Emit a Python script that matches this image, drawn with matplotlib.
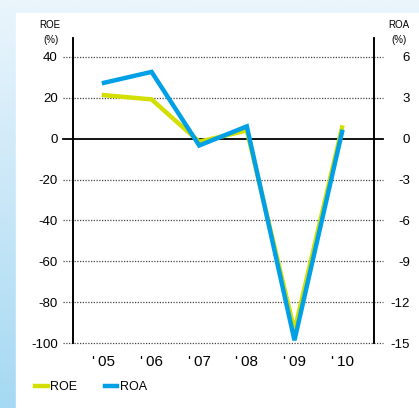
import numpy as np
import matplotlib
matplotlib.use("Agg")
import matplotlib.pyplot as plt
from matplotlib.colors import LinearSegmentedColormap
from matplotlib.lines import Line2D

plt.rcParams["font.family"] = ["Liberation Sans", "DejaVu Sans"]

# data
years = ["'\u200905", "'\u200906", "'\u200907", "'\u200908", "'\u200909", "'\u200910"]
roe = [21.3, 19.2, -1.5, 4.0, -94.0, 5.5]     # %, left axis
roa = [4.1, 4.9, -0.5, 0.9, -14.8, 0.5]       # %, right axis
roe_ticks = [40, 20, 0, -20, -40, -60, -80, -100]
roa_ticks = [6, 3, 0, -3, -6, -9, -12, -15]

ROE_COLOR = "#d2df00"
ROA_COLOR = "#00a0e6"

W, H = 419, 408
fig = plt.figure(figsize=(W / 100, H / 100), dpi=100)

# background: pale blue gradient with a white panel on it
bg = fig.add_axes([0, 0, 1, 1], zorder=-10)
grad = np.linspace(0, 1, 256).reshape(-1, 1)
cmap = LinearSegmentedColormap.from_list("bg", ["#eaf5fc", "#a6d9f3"])
bg.imshow(grad, aspect="auto", cmap=cmap, extent=[0, 1, 0, 1])
bg.add_patch(plt.Rectangle((16 / W, 0), 1, 1 - 13 / H, color="white"))
bg.set_xlim(0, 1)
bg.set_ylim(0, 1)
bg.axis("off")

ax = fig.add_axes([73 / W, 65 / H, 301 / W, 305.5 / H])
ax.set_facecolor("none")
x = np.arange(len(years))

ax.set_xlim(-0.65, 5.67)
ax.set_ylim(-100, 49.5)

# dotted gridlines reaching a bit outside the axes
for t in roe_ticks:
    if t == 0:
        ax.axhline(0, xmin=-0.033, xmax=1.03, color="black", lw=1.3,
                   clip_on=False, zorder=1)
    else:
        ax.axhline(t, xmin=-0.033, xmax=1.03, color="#444444", lw=0.9,
                   linestyle=(0, (1, 1.2)), clip_on=False, zorder=1)

ax.plot(x, roe, color=ROE_COLOR, lw=3.2, zorder=3, solid_joinstyle="miter")

ax2 = ax.twinx()
ax2.set_ylim(-15, 49.5 * 0.15)
ax2.plot(x, roa, color=ROA_COLOR, lw=3.2, zorder=4, solid_joinstyle="miter")

for a in (ax, ax2):
    a.spines["top"].set_visible(False)
    a.spines["bottom"].set_visible(False)
    a.spines["left"].set_linewidth(1.2)
    a.spines["right"].set_linewidth(1.2)

ax.set_yticks(roe_ticks)
ax.set_yticklabels([str(t) for t in roe_ticks])
ax.tick_params(axis="y", length=0, pad=11, labelsize=9.5)
ax2.set_yticks(roa_ticks)
ax2.set_yticklabels([str(t) for t in roa_ticks])
ax2.tick_params(axis="y", length=0, pad=26, labelsize=9.5)
for lbl in ax2.get_yticklabels():
    lbl.set_horizontalalignment("right")

ax.set_xticks(x)
ax.set_xticklabels(years)
ax.tick_params(axis="x", length=0, pad=9, labelsize=11)

# axis titles
fig.text(50 / W, 1 - 25 / H, "ROE", ha="center", va="center", fontsize=7)
fig.text(51 / W, 1 - 40 / H, "(%)", ha="center", va="center", fontsize=7)
fig.text(399 / W, 1 - 25 / H, "ROA", ha="center", va="center", fontsize=7)
fig.text(399 / W, 1 - 40 / H, "(%)", ha="center", va="center", fontsize=7)

handles = [Line2D([], [], color=ROE_COLOR, lw=3.2),
           Line2D([], [], color=ROA_COLOR, lw=3.2)]
fig.legend(handles, ["ROE", "ROA"], loc="center left",
           bbox_to_anchor=(24 / W, 1 - 387 / H), ncol=2, frameon=False,
           fontsize=9, handlelength=1.0, handletextpad=0.2,
           columnspacing=2.2)

fig.savefig("out.png", dpi=100)
